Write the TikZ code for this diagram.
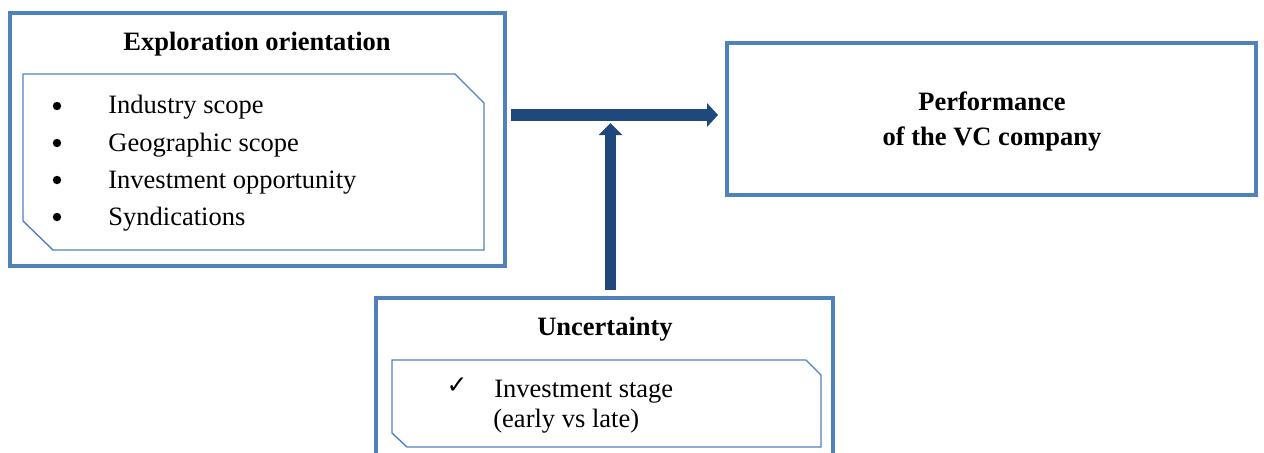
\documentclass[tikz,border=0pt]{standalone}
\usepackage{fontspec}
\setmainfont{Liberation Serif}
\newfontfamily\dejavu{DejaVu Sans}
\usetikzlibrary{arrows.meta}
\definecolor{boxblue}{RGB}{79,129,189}
\definecolor{arrowblue}{RGB}{31,73,125}
\begin{document}
\begin{tikzpicture}[x=0.5pt,y=-0.5pt,
  every node/.style={font=\fontsize{13.25pt}{16pt}\selectfont},
  outerbox/.style={draw=boxblue, line width=1.75pt, inner sep=0pt},
  innerline/.style={draw=boxblue, line width=0.7pt},
  titletext/.style={font=\fontsize{13.25pt}{16pt}\selectfont\bfseries, inner sep=0pt, anchor=base},
  itemtext/.style={inner sep=0pt, anchor=base west},
  bulletdot/.style={circle, fill=black, inner sep=0pt, minimum size=4.2pt},
  checktext/.style={inner sep=0pt, font=\dejavu\fontsize{12.5pt}{14pt}\selectfont},
  bigarrow/.style={draw=arrowblue, line width=6pt, -{Triangle[width=12pt,length=5.5pt,line width=0pt]}},
  uparrow/.style={draw=arrowblue, line width=5.5pt, -{Triangle[width=12pt,length=6pt,line width=0pt]}}]
\useasboundingbox (0,0) rectangle (1264,452);
% left box
\node[outerbox, minimum width=247.5pt, minimum height=126.5pt] (expl) at (257.5,139.5) {};
\draw[innerline] (23,74) -- (455,74) -- (484,103) -- (484,250) -- (53,250) -- (23,221) -- cycle;
\node[titletext] (explt) at (257,50) {Exploration orientation};
\node[bulletdot] (b1) at (57,106) {};
\node[bulletdot] (b2) at (57,143) {};
\node[bulletdot] (b3) at (57,180) {};
\node[bulletdot] (b4) at (57,217) {};
\node[itemtext] (i1) at (108,113) {Industry scope};
\node[itemtext] (i2) at (108,151) {Geographic scope};
\node[itemtext] (i3) at (108,188) {Investment opportunity};
\node[itemtext] (i4) at (108,225) {Syndications};
% right box
\node[outerbox, minimum width=264.5pt, minimum height=76pt] (perf) at (991.5,119) {};
\node[titletext] (p1) at (992,110) {Performance};
\node[titletext] (p2) at (992,145) {of the VC company};
% bottom box
\begin{scope}
\clip (0,0) rectangle (1264,452);
\node[outerbox, minimum width=228.5pt, minimum height=91pt] (unc) at (604.5,389) {};
\end{scope}
\draw[innerline] (392,360) -- (806,360) -- (821,375) -- (821,447) -- (407,447) -- (392,433) -- cycle;
\node[titletext] (ut) at (605,335) {Uncertainty};
\node[checktext] (chk) at (457,386) {✓};
\node[itemtext] (u1) at (494,397) {Investment stage};
\node[itemtext] (u2) at (493,427) {(early vs late)};
% arrows
\coordinate (hl) at (511,115);
\coordinate (hr) at (718,115);
\coordinate (vb) at (610.5,290);
\coordinate (vt) at (610.5,123);
\draw[bigarrow] (hl) -- (hr);
\draw[uparrow] (vb) -- (vt);
\end{tikzpicture}
\end{document}
